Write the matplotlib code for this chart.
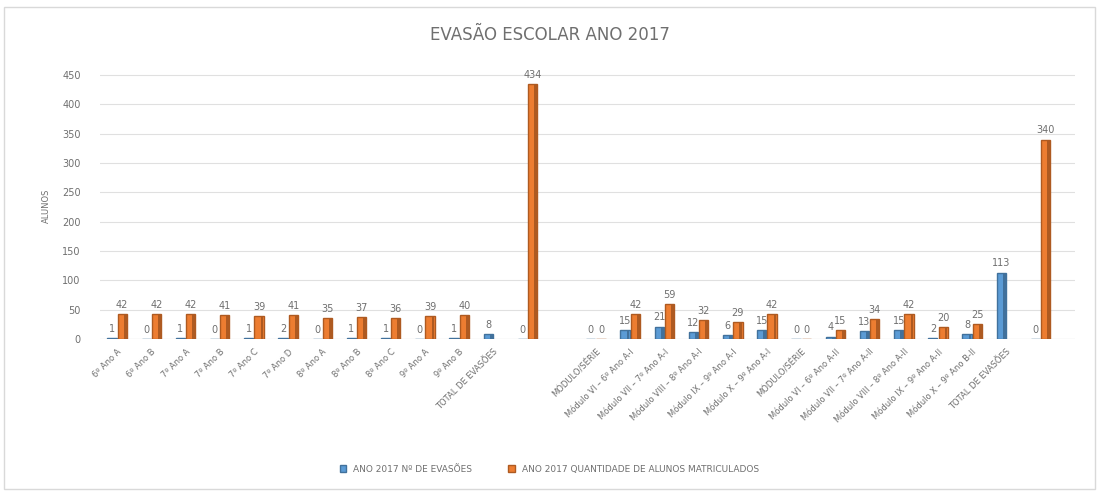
import numpy as np
import matplotlib.pyplot as plt
from matplotlib.patches import Rectangle

# categories along the x axis (blank entries are empty slots in the sheet)
categorias = ['6º Ano A', '6º Ano B', '7º Ano A', '7º Ano B', '7º Ano C',
              '7º Ano D', '8º Ano A', '8º Ano B', '8º Ano C', '9º Ano A',
              '9º Ano B', 'TOTAL DE EVASÕES', '', '',
              'MÓDULO/SÉRIE',
              'Módulo VI – 6º Ano A-I', 'Módulo VII – 7º Ano A-I',
              'Módulo VIII – 8º Ano A-I', 'Módulo IX – 9º Ano A-I',
              'Módulo X – 9º Ano A-I',
              'MÓDULO/SÉRIE',
              'Módulo VI – 6º Ano A-II', 'Módulo VII – 7º Ano A-II',
              'Módulo VIII – 8º Ano A-II', 'Módulo IX – 9º Ano A-II',
              'Módulo X – 9º Ano B-II',
              'TOTAL DE EVASÕES', '']

# ANO 2017 Nº DE EVASÕES
evasoes = [1, 0, 1, 0, 1, 2, 0, 1, 1, 0, 1, 8, 0, None,
           0, 15, 21, 12, 6, 15, 0, 4, 13, 15, 2, 8, 113, 0]

# ANO 2017 QUANTIDADE DE ALUNOS MATRICULADOS
matriculados = [42, 42, 42, 41, 39, 41, 35, 37, 36, 39, 40, None, 434, None,
                0, 42, 59, 32, 29, 42, 0, 15, 34, 42, 20, 25, None, 340]

yticks = [0, 50, 100, 150, 200, 250, 300, 350, 400, 450]

azul, azul_esc = '#5b9bd5', '#41719c'
laranja, laranja_esc = '#ed7d31', '#ae5a21'
cinza = '#6f6f6f'

fig = plt.figure(figsize=(10.99, 4.94), dpi=100)
ax = fig.add_axes([0.091, 0.314, 0.887, 0.54])

x = np.arange(len(categorias))
w = 0.27


def draw_series(vals, offset, face, edge):
    idx = [i for i, v in enumerate(vals) if v is not None]
    h = [vals[i] for i in idx]
    pos = x[idx] + offset
    bars = ax.bar(pos, h, width=w, color=face, edgecolor=edge,
                  linewidth=1.0, zorder=3)
    # darker side face for the 3-D look
    ax.bar(pos + w * 0.32, h, width=w * 0.3, color=edge, linewidth=0,
           zorder=4)
    for p, v in zip(pos, h):
        ax.annotate(str(v), (p, v), xytext=(0, 3), textcoords='offset points',
                    ha='center', va='bottom', fontsize=7, color=cinza)
    return bars


b1 = draw_series(evasoes, -0.15, azul, azul_esc)
b2 = draw_series(matriculados, 0.15, laranja, laranja_esc)

ax.set_xlim(-0.5, 28.0)
ax.set_ylim(0, 455)
ax.set_yticks(yticks)
ax.set_xticks(x)
ax.set_xticklabels(categorias, rotation=45, ha='right', rotation_mode='anchor',
                   fontsize=6, color=cinza)
ax.tick_params(axis='y', labelsize=7, labelcolor=cinza, length=0, pad=14)
ax.tick_params(axis='x', length=0, pad=6)
ax.grid(axis='y', color='#e0e0e0', linewidth=0.8, zorder=0)
for s in ax.spines.values():
    s.set_visible(False)
ax.axhline(0, color='#d9d9d9', linewidth=0.8, zorder=1)

ax.set_ylabel('ALUNOS', fontsize=6, color=cinza, labelpad=8)
fig.text(0.5, 0.93, 'EVASÃO ESCOLAR ANO 2017', ha='center', va='center',
         fontsize=12, color=cinza)

fig.legend([b1, b2], ['ANO 2017 Nº DE EVASÕES',
                      'ANO 2017 QUANTIDADE DE ALUNOS MATRICULADOS'],
           loc='center', bbox_to_anchor=(0.5, 0.05), ncol=2, frameon=False,
           fontsize=6.5, labelcolor=cinza, handlelength=0.7,
           handleheight=0.7, columnspacing=4)

fig.patches.append(Rectangle((0.004, 0.01), 0.992, 0.975, transform=fig.transFigure,
                             fill=False, edgecolor='#d9d9d9', linewidth=1))

fig.savefig('out.png', dpi=100)
